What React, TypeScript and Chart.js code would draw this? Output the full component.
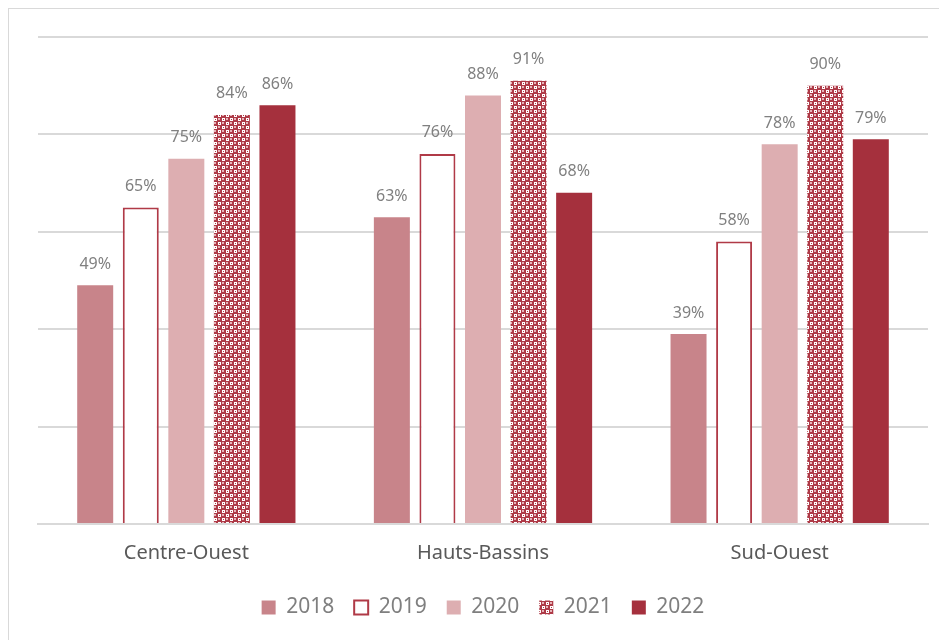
import React, { useEffect, useRef } from "react";
import { Chart, registerables } from "chart.js";

Chart.register(...registerables);

const categories = ["Centre-Ouest", "Hauts-Bassins", "Sud-Ouest"];
const seriesLabels = ["2018", "2019", "2020", "2021", "2022"];
const values2018 = [49, 63, 39];
const values2019 = [65, 76, 58];
const values2020 = [75, 88, 78];
const values2021 = [84, 91, 90];
const values2022 = [86, 68, 79];

function makePattern(): CanvasPattern | string {
  const c = document.createElement("canvas");
  c.width = 8;
  c.height = 8;
  const g = c.getContext("2d");
  if (!g) return "#AE3A47";
  g.fillStyle = "#AE3A47";
  g.fillRect(0, 0, 8, 8);
  g.fillStyle = "#ffffff";
  g.fillRect(1, 1, 3, 3);
  g.fillRect(5, 5, 3, 3);
  g.fillStyle = "#E6B3B8";
  g.fillRect(5, 1, 2, 2);
  g.fillRect(1, 5, 2, 2);
  g.fillStyle = "#AE3A47";
  g.fillRect(2, 2, 1, 1);
  g.fillRect(6, 6, 1, 1);
  const p = g.createPattern(c, "repeat");
  return p || "#AE3A47";
}

const dataLabelPlugin = {
  id: "dataLabels",
  afterDatasetsDraw(chart: any) {
    const ctx = chart.ctx;
    ctx.save();
    ctx.font = "16px 'Noto Sans', sans-serif";
    ctx.fillStyle = "#808080";
    ctx.textAlign = "center";
    ctx.textBaseline = "middle";
    chart.data.datasets.forEach((ds: any, i: number) => {
      const meta = chart.getDatasetMeta(i);
      meta.data.forEach((el: any, j: number) => {
        ctx.fillText(`${ds.data[j]}%`, el.x, el.y - 21);
      });
    });
    ctx.restore();
  },
};

export default function App() {
  const ref = useRef<HTMLCanvasElement>(null);
  useEffect(() => {
    if (!ref.current) return;
    const pattern = makePattern();
    const common = { categoryPercentage: 0.768, barPercentage: 0.79 };
    const chart = new Chart(ref.current, {
      type: "bar",
      data: {
        labels: categories,
        datasets: [
          { label: seriesLabels[0], data: values2018, backgroundColor: "#C8848A", borderWidth: 0, ...common },
          {
            label: seriesLabels[1],
            data: values2019,
            backgroundColor: "#ffffff",
            borderColor: "#B03A47",
            borderWidth: 2,
            ...common,
          },
          { label: seriesLabels[2], data: values2020, backgroundColor: "#DDAEB1", borderWidth: 0, ...common },
          { label: seriesLabels[3], data: values2021, backgroundColor: pattern as any, borderWidth: 0, ...common },
          { label: seriesLabels[4], data: values2022, backgroundColor: "#A5303D", borderWidth: 0, ...common },
        ],
      },
      options: {
        animation: false,
        responsive: false,
        maintainAspectRatio: false,
        layout: { padding: { left: 29, right: 19, top: 28, bottom: 12 } },
        scales: {
          x: {
            grid: { display: false, drawTicks: false },
            border: { display: true, color: "#D9D9D9", width: 2 },
            ticks: {
              color: "#595959",
              font: { family: "'Noto Sans', sans-serif", size: 20 },
              padding: 17,
            },
            afterFit: (scale: any) => {
              scale.height = 53;
            },
          },
          y: {
            display: true,
            min: 0,
            max: 100,
            ticks: { display: false, stepSize: 20 },
            grid: { color: "#D9D9D9", lineWidth: 2, drawTicks: false },
            border: { display: false },
            afterFit: (scale: any) => {
              scale.width = 0;
            },
          },
        },
        plugins: {
          tooltip: { enabled: false },
          legend: {
            position: "bottom",
            labels: {
              color: "#7F7F7F",
              font: { family: "'Noto Sans', sans-serif", size: 21 },
              boxWidth: 14,
              boxHeight: 14,
              padding: 20,
            },
          },
        },
      },
      plugins: [dataLabelPlugin],
    });
    return () => chart.destroy();
  }, []);
  return (
    <div
      style={{
        width: 938,
        height: 631,
        borderLeft: "1px solid #D9D9D9",
        borderTop: "1px solid #D9D9D9",
        overflow: "hidden",
      }}
    >
      <canvas ref={ref} width={938} height={631} style={{ display: "block" }} />
    </div>
  );
}
